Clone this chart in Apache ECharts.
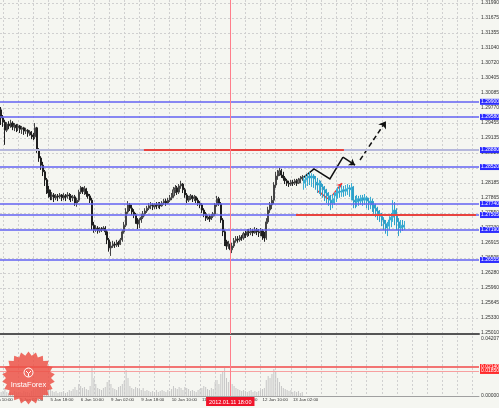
<!DOCTYPE html>
<html><head><meta charset="utf-8">
<script src="https://cdn.jsdelivr.net/npm/echarts@6/dist/echarts.min.js"></script>
<style>html,body{margin:0;padding:0;background:#f5f6f1;}#c{width:499px;height:408px;}</style>
</head><body><div id="c"></div><script>
// bar 0 = 4 Jan 10:00 (H1 bars)
const firstBar = 7;
// [open, close, low, high]
const candles = [
[1.2973,1.2956,1.2941,1.2979],[1.2956,1.2947,1.2937,1.2962],[1.2947,1.2930,1.2899,1.2952],[1.2930,1.2943,1.2926,1.2947],
[1.2943,1.2939,1.2932,1.2949],[1.2939,1.2945,1.2935,1.2952],[1.2945,1.2937,1.2930,1.2949],[1.2937,1.2941,1.2928,1.2945],
[1.2941,1.2935,1.2926,1.2943],[1.2935,1.2939,1.2928,1.2943],[1.2939,1.2932,1.2924,1.2941],[1.2932,1.2935,1.2922,1.2939],
[1.2935,1.2928,1.2920,1.2937],[1.2928,1.2930,1.2922,1.2935],[1.2930,1.2924,1.2916,1.2932],[1.2924,1.2926,1.2918,1.2930],
[1.2926,1.2920,1.2911,1.2928],[1.2920,1.2916,1.2909,1.2924],[1.2916,1.2935,1.2911,1.2945],[1.2935,1.2888,1.2882,1.2937],
[1.2888,1.2871,1.2863,1.2892],[1.2871,1.2856,1.2846,1.2875],[1.2856,1.2842,1.2833,1.2863],[1.2842,1.2825,1.2812,1.2846],
[1.2825,1.2804,1.2795,1.2829],[1.2804,1.2797,1.2787,1.2812],[1.2797,1.2789,1.2782,1.2804],[1.2789,1.2793,1.2782,1.2799],
[1.2793,1.2787,1.2778,1.2797],[1.2787,1.2791,1.2782,1.2795],[1.2791,1.2789,1.2780,1.2795],[1.2789,1.2793,1.2785,1.2797],
[1.2793,1.2787,1.2780,1.2795],[1.2787,1.2791,1.2782,1.2797],[1.2791,1.2789,1.2780,1.2795],[1.2789,1.2793,1.2785,1.2799],
[1.2793,1.2791,1.2782,1.2797],[1.2791,1.2787,1.2778,1.2795],[1.2787,1.2789,1.2780,1.2793],[1.2789,1.2776,1.2770,1.2793],
[1.2776,1.2782,1.2768,1.2787],[1.2782,1.2799,1.2778,1.2804],[1.2799,1.2808,1.2795,1.2812],[1.2808,1.2801,1.2795,1.2810],
[1.2801,1.2806,1.2793,1.2812],[1.2806,1.2795,1.2789,1.2808],[1.2795,1.2791,1.2785,1.2801],[1.2791,1.2782,1.2776,1.2795],
[1.2782,1.2729,1.2719,1.2787],[1.2729,1.2719,1.2713,1.2736],[1.2719,1.2723,1.2715,1.2729],[1.2723,1.2717,1.2711,1.2727],
[1.2717,1.2721,1.2713,1.2725],[1.2721,1.2719,1.2715,1.2725],[1.2719,1.2723,1.2717,1.2727],[1.2723,1.2715,1.2708,1.2727],
[1.2715,1.2698,1.2689,1.2719],[1.2698,1.2681,1.2673,1.2702],[1.2681,1.2685,1.2664,1.2694],[1.2685,1.2689,1.2681,1.2696],
[1.2689,1.2687,1.2681,1.2694],[1.2687,1.2692,1.2683,1.2698],[1.2692,1.2689,1.2683,1.2696],[1.2689,1.2698,1.2687,1.2702],
[1.2698,1.2715,1.2694,1.2719],[1.2715,1.2729,1.2711,1.2736],[1.2729,1.2757,1.2725,1.2765],[1.2757,1.2772,1.2753,1.2780],
[1.2772,1.2765,1.2759,1.2776],[1.2765,1.2757,1.2751,1.2772],[1.2757,1.2751,1.2744,1.2763],[1.2751,1.2740,1.2732,1.2755],
[1.2740,1.2732,1.2721,1.2744],[1.2732,1.2740,1.2723,1.2744],[1.2740,1.2746,1.2734,1.2753],[1.2746,1.2753,1.2742,1.2759],
[1.2753,1.2759,1.2748,1.2765],[1.2759,1.2765,1.2755,1.2770],[1.2765,1.2770,1.2761,1.2776],[1.2770,1.2772,1.2763,1.2778],
[1.2772,1.2768,1.2761,1.2776],[1.2768,1.2772,1.2763,1.2776],[1.2772,1.2770,1.2763,1.2778],[1.2770,1.2774,1.2765,1.2778],
[1.2774,1.2770,1.2763,1.2778],[1.2770,1.2776,1.2768,1.2780],[1.2776,1.2780,1.2772,1.2785],[1.2780,1.2776,1.2770,1.2785],
[1.2776,1.2782,1.2774,1.2787],[1.2782,1.2787,1.2778,1.2793],[1.2787,1.2791,1.2782,1.2797],[1.2791,1.2804,1.2787,1.2810],
[1.2804,1.2808,1.2797,1.2814],[1.2808,1.2799,1.2793,1.2812],[1.2799,1.2812,1.2795,1.2816],[1.2812,1.2816,1.2806,1.2823],
[1.2816,1.2804,1.2797,1.2818],[1.2804,1.2793,1.2787,1.2808],[1.2793,1.2782,1.2776,1.2797],[1.2782,1.2787,1.2778,1.2791],
[1.2787,1.2791,1.2782,1.2795],[1.2791,1.2785,1.2778,1.2793],[1.2785,1.2789,1.2780,1.2793],[1.2789,1.2782,1.2776,1.2791],
[1.2782,1.2776,1.2770,1.2787],[1.2776,1.2772,1.2765,1.2780],[1.2772,1.2761,1.2755,1.2776],[1.2761,1.2753,1.2746,1.2765],
[1.2753,1.2744,1.2738,1.2757],[1.2744,1.2746,1.2740,1.2751],[1.2746,1.2742,1.2736,1.2751],[1.2742,1.2748,1.2740,1.2753],
[1.2748,1.2753,1.2744,1.2757],[1.2753,1.2772,1.2748,1.2776],[1.2772,1.2785,1.2768,1.2791],[1.2785,1.2774,1.2770,1.2789],
[1.2774,1.2740,1.2734,1.2778],[1.2740,1.2715,1.2706,1.2744],[1.2715,1.2694,1.2685,1.2719],[1.2694,1.2685,1.2677,1.2698],
[1.2685,1.2689,1.2679,1.2696],[1.2689,1.2677,1.2660,1.2694],[1.2677,1.2685,1.2670,1.2692],[1.2685,1.2696,1.2681,1.2702],
[1.2696,1.2700,1.2692,1.2706],[1.2700,1.2698,1.2692,1.2706],[1.2698,1.2704,1.2694,1.2708],[1.2704,1.2702,1.2696,1.2708],
[1.2702,1.2711,1.2698,1.2715],[1.2711,1.2708,1.2702,1.2717],[1.2708,1.2715,1.2704,1.2721],[1.2715,1.2713,1.2706,1.2721],
[1.2713,1.2717,1.2708,1.2723],[1.2717,1.2713,1.2706,1.2721],[1.2713,1.2719,1.2711,1.2725],[1.2719,1.2715,1.2708,1.2723],
[1.2715,1.2713,1.2704,1.2721],[1.2713,1.2717,1.2706,1.2723],[1.2717,1.2706,1.2698,1.2721],[1.2706,1.2702,1.2694,1.2715],
[1.2702,1.2736,1.2698,1.2744],[1.2736,1.2761,1.2732,1.2768],[1.2761,1.2772,1.2755,1.2778],[1.2772,1.2782,1.2763,1.2791],
[1.2782,1.2814,1.2774,1.2820],[1.2814,1.2833,1.2808,1.2842],[1.2833,1.2839,1.2825,1.2846],[1.2839,1.2844,1.2833,1.2850],
[1.2844,1.2835,1.2829,1.2848],[1.2835,1.2829,1.2823,1.2842],[1.2829,1.2823,1.2816,1.2833],[1.2823,1.2818,1.2812,1.2827],
[1.2818,1.2816,1.2810,1.2823],[1.2816,1.2820,1.2812,1.2825],[1.2820,1.2818,1.2812,1.2825],[1.2818,1.2823,1.2814,1.2827],
[1.2823,1.2818,1.2812,1.2827],[1.2818,1.2825,1.2816,1.2829],[1.2825,1.2827,1.2818,1.2833],[1.2827,1.2831,1.2823,1.2835]
];
// projected path (cyan bars), [open, close, low, high]
const forecastFirst = 167;
const forecast = [
[1.2818,1.2825,1.2804,1.2831],[1.2825,1.2829,1.2808,1.2835],[1.2829,1.2833,1.2812,1.2839],[1.2833,1.2829,1.2814,1.2842],
[1.2829,1.2833,1.2810,1.2839],[1.2833,1.2827,1.2808,1.2837],[1.2827,1.2820,1.2804,1.2833],[1.2820,1.2814,1.2797,1.2829],
[1.2814,1.2818,1.2795,1.2825],[1.2818,1.2810,1.2791,1.2823],[1.2810,1.2804,1.2787,1.2816],[1.2804,1.2797,1.2780,1.2812],
[1.2797,1.2791,1.2776,1.2806],[1.2791,1.2782,1.2770,1.2799],[1.2782,1.2776,1.2761,1.2793],[1.2776,1.2785,1.2765,1.2795],
[1.2785,1.2791,1.2772,1.2799],[1.2791,1.2797,1.2778,1.2806],[1.2797,1.2801,1.2785,1.2810],[1.2801,1.2799,1.2787,1.2812],
[1.2799,1.2804,1.2789,1.2814],[1.2804,1.2801,1.2789,1.2812],[1.2801,1.2806,1.2791,1.2814],[1.2806,1.2808,1.2793,1.2816],
[1.2808,1.2804,1.2789,1.2814],[1.2804,1.2810,1.2782,1.2818],[1.2810,1.2782,1.2765,1.2812],[1.2782,1.2778,1.2765,1.2791],
[1.2778,1.2785,1.2768,1.2793],[1.2785,1.2780,1.2770,1.2791],[1.2780,1.2787,1.2772,1.2793],[1.2787,1.2782,1.2770,1.2793],
[1.2782,1.2787,1.2772,1.2795],[1.2787,1.2780,1.2765,1.2791],[1.2780,1.2776,1.2761,1.2787],[1.2776,1.2780,1.2763,1.2789],
[1.2780,1.2772,1.2757,1.2785],[1.2772,1.2765,1.2753,1.2780],[1.2765,1.2759,1.2746,1.2774],[1.2759,1.2753,1.2740,1.2768],
[1.2753,1.2748,1.2736,1.2761],[1.2748,1.2740,1.2727,1.2755],[1.2740,1.2732,1.2719,1.2746],[1.2732,1.2723,1.2711,1.2740],
[1.2723,1.2727,1.2706,1.2736],[1.2727,1.2740,1.2719,1.2748],[1.2740,1.2746,1.2725,1.2755],[1.2746,1.2761,1.2736,1.2782],
[1.2761,1.2751,1.2729,1.2778],[1.2751,1.2736,1.2719,1.2765],[1.2736,1.2723,1.2706,1.2744],[1.2723,1.2729,1.2713,1.2740],
[1.2729,1.2725,1.2717,1.2740],[1.2725,1.2729,1.2719,1.2738]
];
const volume = [
0.0030,0.0037,0.0059,0.0030,0.0022,0.0030,0.0022,0.0037,0.0030,0.0022,0.0030,0.0022,0.0037,0.0030,0.0030,0.0022,0.0037,0.0044,0.0052,
0.0104,0.0089,0.0074,0.0067,0.0081,0.0074,0.0059,0.0052,
0.0037,0.0030,0.0037,0.0022,0.0030,0.0030,0.0037,0.0022,0.0030,0.0044,0.0037,0.0052,0.0067,0.0044,
0.0089,0.0074,0.0059,0.0067,0.0052,0.0044,0.0074,
0.0207,0.0133,0.0089,0.0059,0.0052,0.0044,0.0059,0.0067,
0.0104,0.0118,0.0089,0.0059,0.0052,0.0044,0.0067,0.0074,0.0089,0.0111,
0.0192,0.0133,0.0074,0.0059,0.0052,0.0067,0.0059,
0.0052,0.0044,0.0059,0.0037,0.0044,0.0037,0.0030,0.0037,0.0030,0.0044,0.0030,0.0037,0.0044,0.0037,0.0030,0.0044,0.0037,0.0052,
0.0074,0.0059,0.0052,0.0067,0.0059,0.0044,0.0067,0.0059,0.0052,0.0037,0.0044,0.0037,0.0030,0.0044,0.0052,0.0059,0.0074,0.0067,0.0052,0.0044,0.0059,0.0052,
0.0104,0.0118,0.0089,0.0163,0.0178,0.0207,0.0133,0.0104,0.0118,0.0089,0.0074,
0.0059,0.0052,0.0044,0.0037,0.0044,0.0037,0.0030,0.0037,0.0044,0.0030,0.0037,0.0030,0.0037,0.0044,0.0052,0.0059,
0.0118,0.0148,0.0133,0.0163,0.0200,0.0178,0.0133,0.0104,0.0074,
0.0059,0.0052,0.0044,0.0037,0.0044,0.0030,0.0037,0.0030,0.0037,0.0022,0.0030
];
const timeLabels = ['4 Jan 10:00','5 Jan 02:00','5 Jan 18:00','6 Jan 10:00','9 Jan 02:00','9 Jan 18:00','10 Jan 10:00','11 Jan 02:00','11 Jan 18:00','12 Jan 10:00','13 Jan 02:00'];
const barsPerLabel = 16, barsPerGrid = 8;
const priceTicks = [1.31990,1.31675,1.31355,1.31040,1.30720,1.30405,1.30085,1.29770,1.29455,1.29135,1.28820,1.28500,1.28185,1.27865,1.27550,1.27230,1.26915,1.26595,1.26280,1.25960,1.25645,1.25330,1.25010];
const blueLevels = [1.29900,1.29580,1.28520,1.27740,1.27505,1.27190,1.26555];
const grayLevel = 1.28880;
const currentPrice = 1.28310;
const redSegments = [[[82.4,1.2888],[188.0,1.2888]],[[162.7,1.2751],[257.7,1.2751]]];
const zigzag = [[166.4,1.2829],[172.2,1.2848],[180.6,1.2827],[187.5,1.2873]];
const zigzagEnd = [[187.5,1.2873],[193.9,1.2856]];
const redPathA = [[174.3,1.2801],[179.6,1.2785]];
const redPathB = [[181.7,1.2791],[187.0,1.2818]];
const dashedPath = [[196.5,1.2867],[210.2,1.2949]];
const markerBar = 128, markerText = '2012.01.11 18:00';
const volTicks = [0.04207, 0.0];
const volLevels = [0.0214, 0.0185];

const X_MIN = -4.144, X_MAX = 259.32;
const gridTicks = []; for (let b = 0; b <= 256; b += barsPerGrid) gridTicks.push(b);
const labelTicks = timeLabels.map((t, k) => k * barsPerLabel);
const FONT = 'Liberation Sans';
const dashed = {show: true, lineStyle: {color: '#d0d0d0', type: [2, 2], width: 1}};

const chart = echarts.init(document.getElementById('c'), null, {renderer: 'canvas'});
chart.setOption({
  animation: false,
  backgroundColor: '#f5f6f1',
  grid: [
    {left: -20, right: 20, top: 0, height: 334, outerBoundsMode: 'none', containLabel: false},
    {left: -20, right: 20, top: 336, height: 60, outerBoundsMode: 'none', containLabel: false}
  ],
  xAxis: [
    {gridIndex: 0, type: 'value', min: X_MIN, max: X_MAX,
     axisLine: {show: true, lineStyle: {color: '#555', width: 2}},
     axisTick: {show: false, customValues: gridTicks}, axisLabel: {show: false}, splitLine: dashed},
    {gridIndex: 1, type: 'value', min: X_MIN, max: X_MAX,
     axisLine: {show: true, lineStyle: {color: '#a0a0a0', width: 1}},
     axisTick: {show: false, customValues: gridTicks}, splitLine: dashed,
     axisLabel: {show: true, customValues: labelTicks, formatter: v => timeLabels[Math.round(v / barsPerLabel)],
       align: 'left', padding: [0, 0, 0, 2], margin: 2, fontSize: 4.4, fontFamily: FONT, color: '#333'}}
  ],
  yAxis: [
    {gridIndex: 0, type: 'value', position: 'right', min: 1.249888, max: 1.320535,
     axisLine: {show: true, lineStyle: {color: '#a0a0a0'}},
     axisTick: {show: false, customValues: priceTicks},
     axisLabel: {customValues: priceTicks, formatter: v => v.toFixed(5), fontSize: 5, fontFamily: FONT, color: '#333', margin: 2},
     splitLine: dashed},
    {gridIndex: 1, type: 'value', position: 'right', min: 0, max: 0.0443,
     axisLine: {show: true, lineStyle: {color: '#a0a0a0'}},
     axisTick: {show: false, customValues: volTicks},
     axisLabel: {customValues: volTicks, formatter: v => v.toFixed(5), fontSize: 5, fontFamily: FONT, color: '#333', margin: 2},
     splitLine: {show: false}}
  ],
  series: [
    {type: 'line', xAxisIndex: 0, yAxisIndex: 0, data: [], clip: false, silent: true,
     markLine: {symbol: ['none', 'none'], silent: true, animation: false, precision: 5,
       lineStyle: {color: '#6262f2', width: 1.5, type: 'solid'},
       label: {show: true, position: 'end', distance: 1, formatter: p => p.value.toFixed(5), color: '#fff',
         fontSize: 5, fontFamily: FONT, backgroundColor: '#2b2bff', padding: [1, 1, 0, 1]},
       data: [
         {yAxis: grayLevel, lineStyle: {color: '#b6b8dc', width: 2}},
         ...blueLevels.map(v => ({yAxis: v})),
         {yAxis: currentPrice, lineStyle: {opacity: 0}, label: {backgroundColor: '#111'}},
         ...redSegments.map(s => [{coord: s[0], lineStyle: {color: '#e8433f', width: 2}, label: {show: false}}, {coord: s[1]}]),
         {xAxis: markerBar, lineStyle: {color: '#ff7d8a', width: 1}, label: {show: false}}
       ]}},
    {type: 'candlestick', xAxisIndex: 0, yAxisIndex: 0, barWidth: 1.6,
     data: candles.map((r, k) => [firstBar + k, ...r]),
     itemStyle: {color: '#7a7a7a', color0: '#1e1e1e', borderColor: '#444', borderColor0: '#1e1e1e', borderWidth: 1}},
    {type: 'candlestick', xAxisIndex: 0, yAxisIndex: 0, barWidth: 1.4,
     data: forecast.map((r, k) => [forecastFirst + k, ...r]),
     itemStyle: {color: '#52bfe0', color0: '#3aaed4', borderColor: '#3aaed4', borderColor0: '#2f9fc8', borderWidth: 1}},
    {type: 'lines', coordinateSystem: 'cartesian2d', xAxisIndex: 0, yAxisIndex: 0, polyline: true,
     data: [{coords: zigzag}], lineStyle: {color: '#111', width: 1.5, opacity: 1}},
    {type: 'lines', coordinateSystem: 'cartesian2d', xAxisIndex: 0, yAxisIndex: 0, symbol: ['none', 'arrow'], symbolSize: 6,
     data: [{coords: zigzagEnd}], lineStyle: {color: '#111', width: 1.5, opacity: 1}},
    {type: 'lines', coordinateSystem: 'cartesian2d', xAxisIndex: 0, yAxisIndex: 0, symbol: ['none', 'arrow'], symbolSize: 7,
     data: [{coords: dashedPath}], lineStyle: {color: '#111', width: 1.5, type: [5, 3], opacity: 1}},
    {type: 'lines', coordinateSystem: 'cartesian2d', xAxisIndex: 0, yAxisIndex: 0, symbol: ['none', 'none'],
     data: [{coords: redPathA}], lineStyle: {color: '#ee3b3b', width: 1.5, opacity: 1}},
    {type: 'lines', coordinateSystem: 'cartesian2d', xAxisIndex: 0, yAxisIndex: 0, symbol: ['none', 'arrow'], symbolSize: 5,
     data: [{coords: redPathB}], lineStyle: {color: '#ee3b3b', width: 1.5, opacity: 1}},
    {type: 'bar', xAxisIndex: 1, yAxisIndex: 1, barWidth: 1, data: volume.map((v, k) => [firstBar + k, v]),
     itemStyle: {color: '#c6c6c6'},
     markLine: {symbol: ['none', 'none'], silent: true, animation: false, precision: 5,
       label: {show: true, position: 'end', distance: 1, formatter: p => p.value.toFixed(5), color: '#fff',
         fontSize: 5, fontFamily: FONT, backgroundColor: '#ff2b2b', padding: [1, 1, 0, 1]},
       data: [
         {yAxis: volLevels[0], lineStyle: {color: '#f04848', width: 1.5, type: 'solid'}},
         {yAxis: volLevels[1], lineStyle: {color: '#f7a0a0', width: 1, type: 'solid'}},
         {xAxis: markerBar, lineStyle: {color: '#ff7d8a', width: 1, type: 'solid'},
          label: {position: 'start', distance: 1, formatter: markerText, backgroundColor: '#f0142a', padding: [2, 3, 1, 3], fontSize: 5.5}}
       ]}}
  ],
  graphic: (function () {
    const pts = [];
    const n = 22, cx = 28.5, cy = 378;
    for (let k = 0; k < n * 2; k++) {
      const r = k % 2 === 0 ? 26.5 : 22.5;
      const a = Math.PI * k / n;
      pts.push([cx + r * Math.sin(a), cy - r * Math.cos(a)]);
    }
    return [
      {type: 'polygon', shape: {points: pts}, style: {fill: 'rgba(236,82,72,0.85)'}, z: 100},
      {type: 'circle', shape: {cx: 28.5, cy: 372.5, r: 4.5}, style: {stroke: '#fff', fill: 'none', lineWidth: 1}, z: 101},
      {type: 'polyline', shape: {points: [[26, 371], [28.5, 373.5], [31, 371]]}, style: {stroke: '#fff', fill: 'none', lineWidth: 1}, z: 101},
      {type: 'line', shape: {x1: 28.5, y1: 373.5, x2: 28.5, y2: 376.5}, style: {stroke: '#fff', lineWidth: 1}, z: 101},
      {type: 'text', x: 28.5, y: 385, style: {text: 'InstaForex', fill: '#fff', fontSize: 7.5, fontFamily: FONT, align: 'center', verticalAlign: 'middle'}, z: 101}
    ];
  })()
});
</script></body></html>
